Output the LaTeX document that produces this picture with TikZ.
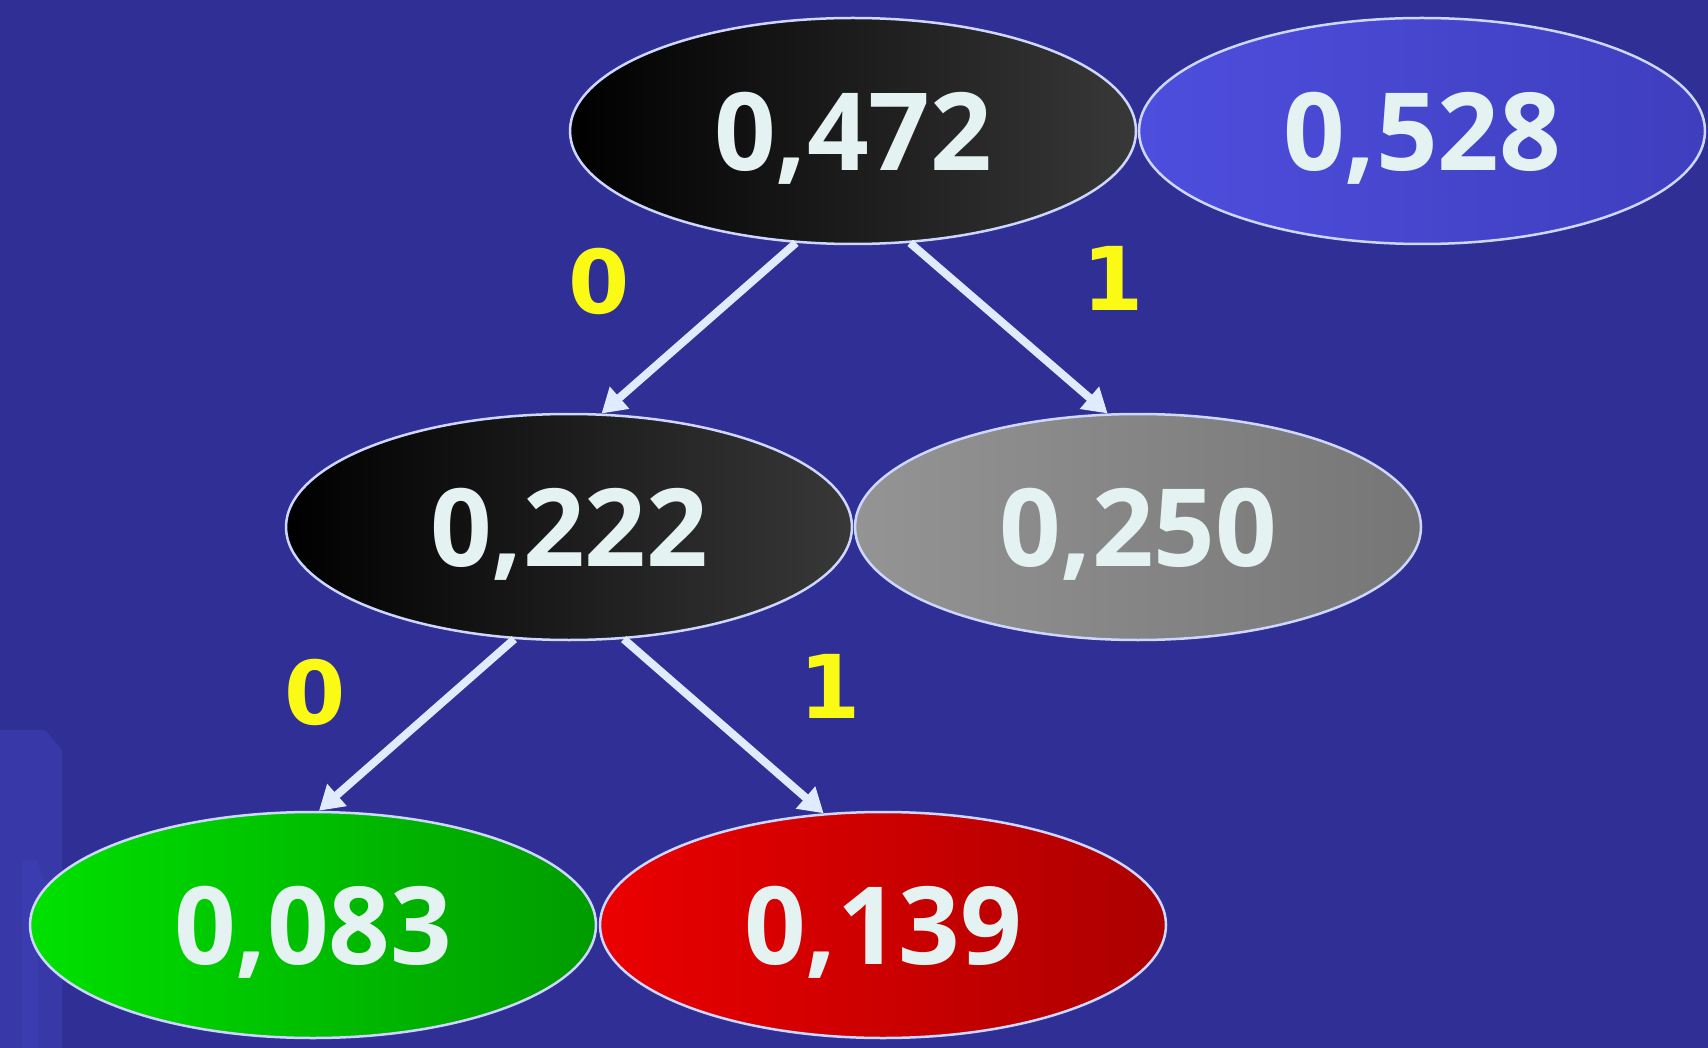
\documentclass[tikz,border=0pt]{standalone}
\usepackage{fontspec}
\setmainfont{Open Sans}
\newfontfamily\labfont{DejaVu Sans}
\usetikzlibrary{shapes.geometric,arrows.meta}
\definecolor{bg}{RGB}{47,47,150}
\definecolor{deco}{RGB}{70,70,196}
\definecolor{rim}{RGB}{205,215,255}
\definecolor{numc}{RGB}{228,242,242}
\definecolor{arr}{RGB}{225,235,255}
\definecolor{lab}{RGB}{250,250,20}
\tikzset{
  oval/.style={ellipse, draw=rim, line width=2.5pt, minimum width=566pt, minimum height=226pt,
    inner sep=0pt, text depth=0pt, text=numc, font=\fontsize{108}{108}\bfseries\selectfont},
  blackoval/.style={oval, left color=black, right color=black!78!white},
  blueoval/.style={oval, left color={rgb,255:red,78;green,78;blue,222}, right color={rgb,255:red,62;green,62;blue,190}},
  grayoval/.style={oval, left color={rgb,255:red,148;green,148;blue,148}, right color={rgb,255:red,118;green,118;blue,118}},
  greenoval/.style={oval, left color={rgb,255:red,0;green,225;blue,0}, right color={rgb,255:red,0;green,155;blue,0}},
  redoval/.style={oval, left color={rgb,255:red,235;green,0;blue,0}, right color={rgb,255:red,172;green,0;blue,0}},
  edgearrow/.style={draw=arr, line width=8pt, -{Triangle[length=24pt,width=28pt]}},
  bitlabel/.style={text=lab, font=\fontsize{88}{88}\labfont\bfseries\selectfont, inner sep=0pt, text depth=0pt}
}
\begin{document}
\begin{tikzpicture}[x=1pt,y=-1pt]
\useasboundingbox (0,0) rectangle (1708,1048);
\fill[bg] (0,0) rectangle (1708,1048);
% faint logo decoration lower-left
\fill[deco, opacity=0.4] (0,730) -- (45,730) -- (62,750) -- (62,1048) -- (0,1048) -- cycle;
\draw[deco, line width=16pt, opacity=0.35] (30,1048) -- (30,860) arc[start angle=180, end angle=40, radius=40];
% nodes
\node[blackoval] (n472) at (853,131) {0,472};
\node[blueoval]  (n528) at (1422,131) {0,528};
\node[blackoval] (n222) at (569,527) {0,222};
\node[grayoval]  (n250) at (1138,527) {0,250};
\node[greenoval] (n083) at (313,925) {0,083};
\node[redoval]   (n139) at (883,925) {0,139};
% labels
\node[bitlabel] (l1) at (599,281) {0};
\node[bitlabel] (l2) at (1113,278) {1};
\node[bitlabel] (l3) at (315,692) {0};
\node[bitlabel] (l4) at (830,686) {1};
% connectors
\draw[edgearrow] (n472.243) -- (n222.74);
\draw[edgearrow] (n472.297) -- (n250.105);
\draw[edgearrow] (n222.244) -- (n083.87);
\draw[edgearrow] (n222.296) -- (n139.118);
\end{tikzpicture}
\end{document}
